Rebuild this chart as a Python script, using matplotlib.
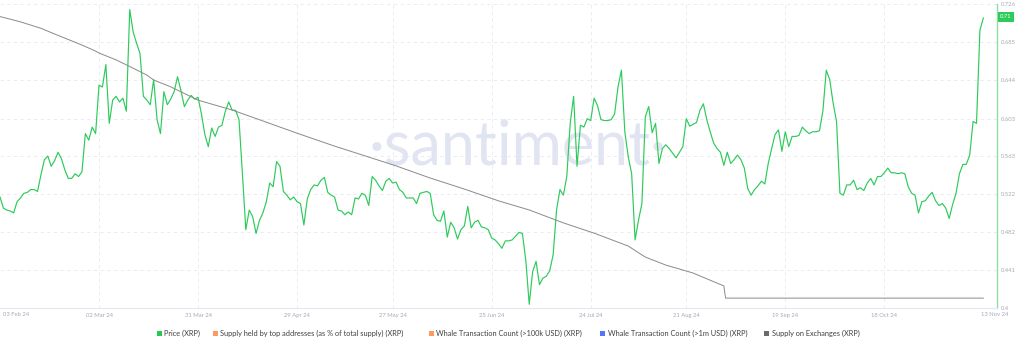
import numpy as np
import pandas as pd
import matplotlib
matplotlib.use("Agg")
import matplotlib.pyplot as plt
from matplotlib.patches import Rectangle

# XRP daily price, 2024-02-02 onward
price_start = "2024-02-02"
price_xrp = [
    0.519, 0.507, 0.505, 0.504, 0.502, 0.514, 0.518, 0.523, 0.524, 0.527,
    0.527, 0.525, 0.543, 0.559, 0.563, 0.552, 0.558, 0.567, 0.560, 0.548,
    0.539, 0.539, 0.544, 0.541, 0.546, 0.587, 0.580, 0.594, 0.587, 0.639,
    0.637, 0.661, 0.598, 0.623, 0.627, 0.621, 0.625, 0.611, 0.720, 0.696,
    0.684, 0.673, 0.627, 0.623, 0.618, 0.645, 0.602, 0.587, 0.632, 0.618,
    0.624, 0.632, 0.648, 0.633, 0.616, 0.623, 0.628, 0.624, 0.626, 0.608,
    0.586, 0.573, 0.593, 0.584, 0.594, 0.596, 0.611, 0.621, 0.612, 0.612,
    0.602, 0.544, 0.484, 0.505, 0.498, 0.480, 0.494, 0.502, 0.514, 0.534,
    0.530, 0.557, 0.552, 0.525, 0.521, 0.516, 0.519, 0.514, 0.512, 0.489,
    0.517, 0.527, 0.532, 0.531, 0.537, 0.540, 0.524, 0.521, 0.519, 0.505,
    0.504, 0.500, 0.503, 0.500, 0.518, 0.517, 0.523, 0.521, 0.510, 0.541,
    0.537, 0.531, 0.526, 0.536, 0.539, 0.534, 0.535, 0.527, 0.524, 0.518,
    0.518, 0.518, 0.512, 0.523, 0.524, 0.525, 0.523, 0.500, 0.494, 0.493,
    0.504, 0.476, 0.492, 0.486, 0.474, 0.484, 0.488, 0.509, 0.486, 0.492,
    0.494, 0.487, 0.486, 0.484, 0.475, 0.473, 0.469, 0.464, 0.472, 0.472,
    0.473, 0.477, 0.481, 0.480, 0.451, 0.404, 0.439, 0.450, 0.425, 0.432,
    0.434, 0.440, 0.457, 0.505, 0.527, 0.521, 0.541, 0.598, 0.627, 0.552,
    0.596, 0.594, 0.603, 0.601, 0.625, 0.617, 0.602, 0.601, 0.601, 0.602,
    0.608, 0.637, 0.655, 0.589, 0.562, 0.544, 0.473, 0.494, 0.512, 0.605,
    0.616, 0.588, 0.598, 0.555, 0.571, 0.575, 0.571, 0.566, 0.561, 0.567,
    0.573, 0.603, 0.595, 0.597, 0.599, 0.612, 0.619, 0.602, 0.589, 0.577,
    0.571, 0.567, 0.553, 0.567, 0.555, 0.559, 0.564, 0.559, 0.550, 0.528,
    0.521, 0.527, 0.531, 0.536, 0.533, 0.555, 0.571, 0.586, 0.591, 0.568,
    0.589, 0.573, 0.584, 0.584, 0.585, 0.594, 0.590, 0.587, 0.589, 0.589,
    0.590, 0.611, 0.655, 0.645, 0.620, 0.600, 0.523, 0.521, 0.532, 0.532,
    0.537, 0.527, 0.529, 0.526, 0.534, 0.539, 0.532, 0.541, 0.541, 0.545,
    0.550, 0.545, 0.545, 0.544, 0.545, 0.544, 0.530, 0.523, 0.521, 0.502,
    0.514, 0.515, 0.520, 0.524, 0.515, 0.510, 0.512, 0.507, 0.496, 0.511,
    0.523, 0.544, 0.554, 0.554, 0.564, 0.600, 0.598, 0.698, 0.711,
]

# supply on exchanges (bn XRP, hidden axis)
supply_dates = [
    "2024-02-02", "2024-02-08", "2024-02-14", "2024-02-18", "2024-02-26",
    "2024-03-01", "2024-03-02", "2024-03-07", "2024-03-12", "2024-03-16",
    "2024-03-18", "2024-03-23", "2024-03-31", "2024-04-10", "2024-04-20",
    "2024-04-29", "2024-05-10", "2024-05-18", "2024-05-28", "2024-06-07",
    "2024-06-17", "2024-06-27", "2024-07-06", "2024-07-16", "2024-07-25",
    "2024-08-04", "2024-08-09", "2024-08-15", "2024-08-23", "2024-09-01 00:00",
    "2024-09-01 12:00", "2024-11-16",
]
supply_xrp = [
    3.367, 3.353, 3.336, 3.321, 3.292,
    3.276, 3.271, 3.253, 3.231, 3.213,
    3.200, 3.182, 3.147, 3.121, 3.089,
    3.060, 3.026, 3.003, 2.974, 2.942,
    2.913, 2.882, 2.858, 2.824, 2.797,
    2.763, 2.734, 2.713, 2.692, 2.658,
    2.626, 2.626,
]

y_ticks = [0.4, 0.441, 0.482, 0.522, 0.563, 0.603, 0.644, 0.685, 0.726]
y_tick_labels = ["0.4", "0.441", "0.482", "0.522", "0.563", "0.603", "0.644", "0.685", "0.726"]
x_tick_dates = ["2024-03-02", "2024-03-31", "2024-04-29", "2024-05-27", "2024-06-25",
                "2024-07-24", "2024-08-21", "2024-09-19", "2024-10-18"]
x_tick_labels = ["02 Mar 24", "31 Mar 24", "29 Apr 24", "27 May 24", "25 Jun 24",
                 "24 Jul 24", "21 Aug 24", "19 Sep 24", "18 Oct 24"]

legend_items = [
    ("Price (XRP)", "#26c953"),
    ("Supply held by top addresses (as % of total supply) (XRP)", "#ff9b5a"),
    ("Whale Transaction Count (>100k USD) (XRP)", "#ff9b5a"),
    ("Whale Transaction Count (>1m USD) (XRP)", "#5275ff"),
    ("Supply on Exchanges (XRP)", "#6b6b6b"),
]
legend_x = [157, 213, 429, 600, 764]

GREEN = "#2ccb5a"
GRID = "#e6e9f0"
TICK = "#a3a9b6"

plt.rcParams['font.family'] = ['Lato', 'DejaVu Sans']

W, H = 1024, 347
fig = plt.figure(figsize=(W / 100, H / 100), dpi=100)
ax = fig.add_axes([0, (H - 308) / H, 997 / W, 304 / H])

dates = pd.date_range(price_start, periods=len(price_xrp), freq="D")
start = pd.Timestamp(price_start)
ax.set_xlim(start, start + pd.Timedelta(days=292))
ax.set_ylim(y_ticks[0], y_ticks[-1])

# watermark
ax.text(0.519, 0.53, "\u00b7santiment\u00b7", transform=ax.transAxes, ha="center", va="center",
        fontsize=44, color="#e1e5f1", zorder=0)

ax.plot(dates, price_xrp, color=GREEN, lw=0.85, zorder=3)

ax2 = ax.twinx()
ax2.set_ylim(2.60, 3.40)
ax2.plot(pd.to_datetime(supply_dates, format="ISO8601"), supply_xrp, color="#8a8a8a", lw=0.7, zorder=2)
ax2.axis("off")

# axes styling
for s in ("left", "top"):
    ax.spines[s].set_visible(False)
ax.spines["right"].set_color("#8fdca6")
ax.spines["right"].set_linewidth(1.0)
ax.spines["bottom"].set_color("#e4e7ee")
ax.spines["bottom"].set_linewidth(0.8)

ax.yaxis.tick_right()
ax.set_yticks(y_ticks)
ax.set_yticklabels(y_tick_labels)
ax.set_xticks(pd.to_datetime(x_tick_dates))
ax.set_xticklabels(x_tick_labels)
ax.tick_params(axis="both", length=0, labelsize=4.2, labelcolor=TICK)
ax.tick_params(axis="x", pad=3.5)
ax.tick_params(axis="y", pad=3)
ax.grid(True, color=GRID, lw=0.6, linestyle=(0, (4, 4)))
ax.set_axisbelow(True)

# first / last date labels
fig.text(3 / W, (H - 314.5) / H, "03 Feb 24", ha="left", va="center", fontsize=4.2, color=TICK)
fig.text(995 / W, (H - 314.5) / H, "13 Nov 24", ha="center", va="center", fontsize=4.2, color=TICK)

# current value badge
fig.text(1000 / W, (H - 17) / H, f"{price_xrp[-1]:.2f}", ha="left", va="center", fontsize=4.2,
         color="white", bbox=dict(boxstyle="square,pad=0.35", fc=GREEN, ec="none"))

# legend
ly = (H - 333.7) / H
for (label, color), lx in zip(legend_items, legend_x):
    fig.patches.append(Rectangle((lx / W, ly - 2.3 / H), 4.6 / W, 4.6 / H,
                                 transform=fig.transFigure, fc=color, ec="none"))
    fig.text((lx + 7.5) / W, ly, label, ha="left", va="center", fontsize=5.3, color="#3f3f3f")

fig.savefig("out.png", dpi=100)
plt.close(fig)
